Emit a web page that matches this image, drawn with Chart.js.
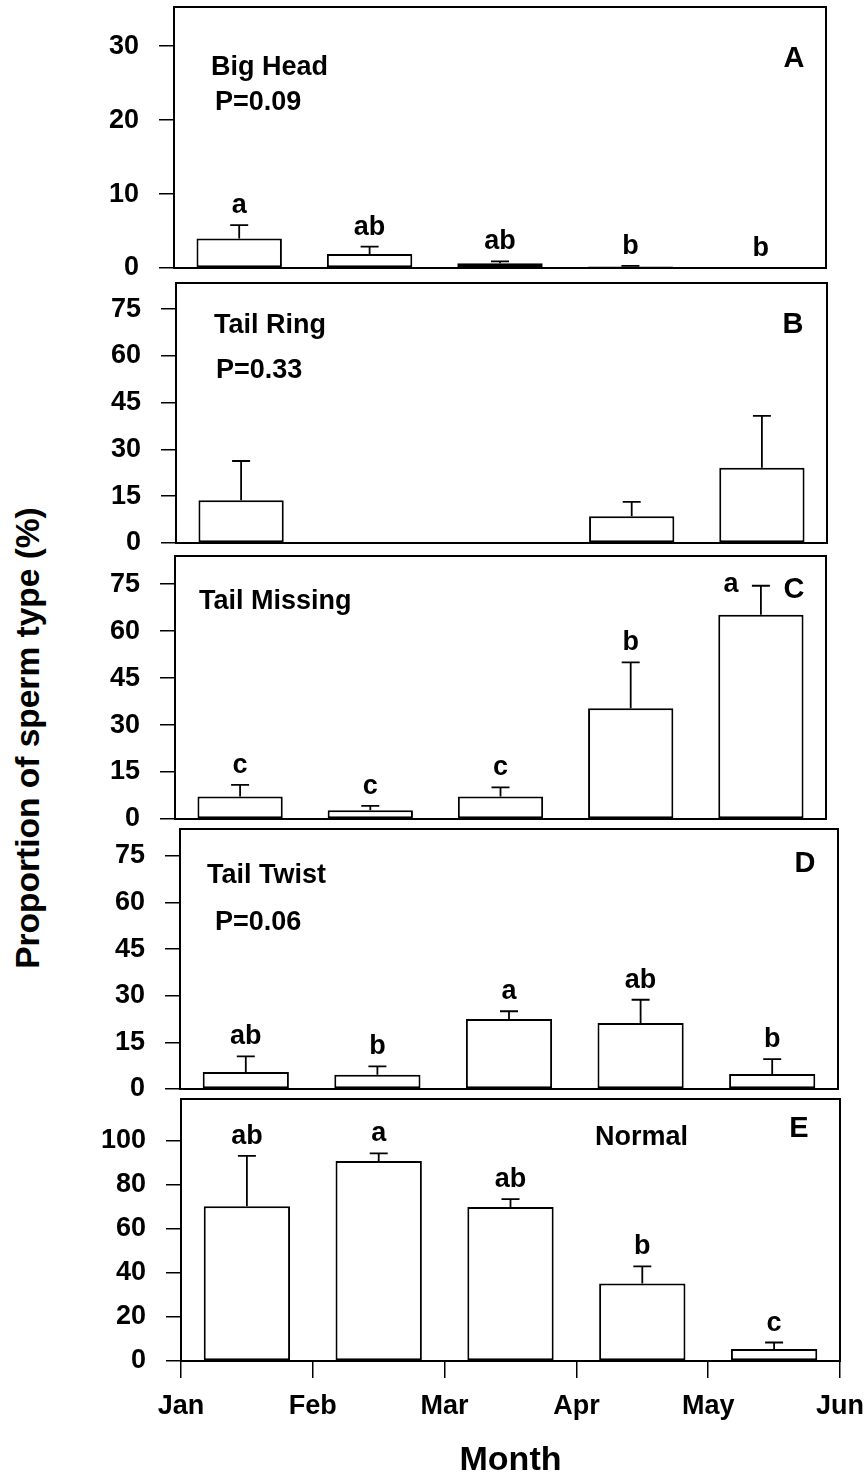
<!DOCTYPE html>
<html>
<head>
<meta charset="utf-8">
<script src="https://cdn.jsdelivr.net/npm/chart.js@4.4.1/dist/chart.umd.min.js"></script>
<style>
  body { margin: 0; background: #fff; }
  #wrap { position: relative; width: 866px; height: 1481px; overflow: hidden; background: #fff; }
  #wrap canvas { position: absolute; left: 0; }
  #ytitle {
    position: absolute; left: -249px; top: 716px; width: 560px; height: 44px;
    line-height: 44px; text-align: center; font: bold 33.5px 'Liberation Sans', Arial, sans-serif;
    color: #000; transform: rotate(-90deg); white-space: nowrap;
  }
</style>
</head>
<body>
<div id="wrap">
  <div id="ytitle">Proportion of sperm type (%)</div>
</div>
<script>
// month boundaries on the x axis, bars sit mid-month
const months = ['Jan', 'Feb', 'Mar', 'Apr', 'May', 'Jun'];
const monthTicks = [0, 1, 2, 3, 4, 5];
const barPos = [0.5, 1.5, 2.5, 3.5, 4.5];

// A - big head
const bigHead = [4.0, 1.9, 0.65, 0.2, 0];
const bigHeadSE = [1.8, 1.0, 0.25, 0.1, 0];
const bigHeadGroups = ['a', 'ab', 'ab', 'b', 'b'];
const bigHeadTicks = [0, 10, 20, 30];

// B - tail ring
const tailRing = [13.7, 0.3, 0, 8.6, 24.1];
const tailRingSE = [12.6, 0, 0, 4.6, 16.7];
const tailRingGroups = [];
const tailRingTicks = [0, 15, 30, 45, 60, 75];

// C - tail missing
const tailMissing = [7.2, 2.8, 7.2, 35.4, 65.2];
const tailMissingSE = [3.7, 1.4, 2.9, 14.6, 9.3];
const tailMissingGroups = ['c', 'c', 'c', 'b', 'a'];
const tailMissingTicks = [0, 15, 30, 45, 60, 75];

// D - tail twist
const tailTwist = [5.5, 4.6, 22.5, 21.2, 4.8];
const tailTwistSE = [5.0, 2.7, 2.5, 7.5, 4.8];
const tailTwistGroups = ['ab', 'b', 'a', 'ab', 'b'];
const tailTwistTicks = [0, 15, 30, 45, 60, 75];

// E - normal
const normal = [70.3, 90.8, 70.0, 35.2, 5.5];
const normalSE = [22.9, 3.5, 3.5, 7.8, 2.9];
const normalGroups = ['ab', 'a', 'ab', 'b', 'c'];
const normalTicks = [0, 20, 40, 60, 80, 100];

const FONT = "'Liberation Sans', Arial, sans-serif";
const PAGE_H = 1481;

const panels = [
  { tag: 'A', lines: ['Big Head', 'P=0.09'], values: bigHead, se: bigHeadSE, groups: bigHeadGroups, ticks: bigHeadTicks, max: 35.3,
    box: { L: 174, R: 826, T: 7, B: 268 },
    text: [[37, 68], [41, 103]], tagAt: [-32, 60] },
  { tag: 'B', lines: ['Tail Ring', 'P=0.33'], values: tailRing, se: tailRingSE, groups: tailRingGroups, ticks: tailRingTicks, max: 83.4,
    box: { L: 176, R: 827, T: 283, B: 543 },
    text: [[38, 50], [40, 95]], tagAt: [-34, 50] },
  { tag: 'C', lines: ['Tail Missing'], values: tailMissing, se: tailMissingSE, groups: tailMissingGroups, ticks: tailMissingTicks, max: 84,
    box: { L: 175, R: 826, T: 556, B: 819 },
    text: [[24, 53]], tagAt: [-32, 42], shift: { 4: [-30, 18] } },
  { tag: 'D', lines: ['Tail Twist', 'P=0.06'], values: tailTwist, se: tailTwistSE, groups: tailTwistGroups, ticks: tailTwistTicks, max: 83.6,
    box: { L: 180, R: 838, T: 829, B: 1089 },
    text: [[27, 54], [35, 101]], tagAt: [-33, 43] },
  { tag: 'E', lines: ['Normal'], values: normal, se: normalSE, groups: normalGroups, ticks: normalTicks, max: 119,
    box: { L: 181, R: 840, T: 1099, B: 1361 },
    text: [[414, 46]], tagAt: [-41, 38], last: true },
];

Chart.defaults.font.family = FONT;
Chart.defaults.font.size = 27;
Chart.defaults.font.weight = 'bold';
Chart.defaults.color = '#000';

// frame, error bars, group letters and panel captions
const panelDecor = {
  id: 'panelDecor',
  afterDatasetsDraw(chart, args, opts) {
    const p = opts.panel;
    const { ctx, chartArea: a, scales: { x, y } } = chart;
    ctx.save();
    ctx.strokeStyle = '#000';
    ctx.fillStyle = '#000';
    ctx.lineWidth = 2;
    ctx.strokeRect(a.left, a.top, a.right - a.left, a.bottom - a.top);

    ctx.lineWidth = 1.8;
    p.values.forEach((v, i) => {
      const cx = x.getPixelForValue(barPos[i]);
      const top = y.getPixelForValue(v + p.se[i]);
      if (p.se[i] > 0) {
        ctx.beginPath();
        ctx.moveTo(cx, y.getPixelForValue(v));
        ctx.lineTo(cx, top);
        ctx.moveTo(cx - 9, top);
        ctx.lineTo(cx + 9, top);
        ctx.stroke();
      }
      if (p.groups[i]) {
        const s = (p.shift && p.shift[i]) || [0, 0];
        ctx.font = 'bold 27px ' + FONT;
        ctx.textAlign = 'center';
        ctx.textBaseline = 'alphabetic';
        ctx.fillText(p.groups[i], cx + s[0], top - 12 + s[1]);
      }
    });

    ctx.font = 'bold 27px ' + FONT;
    ctx.textAlign = 'left';
    ctx.textBaseline = 'alphabetic';
    p.lines.forEach((t, k) => {
      ctx.fillText(t, a.left + p.text[k][0], a.top + p.text[k][1]);
    });
    ctx.font = 'bold 29px ' + FONT;
    ctx.textAlign = 'center';
    ctx.fillText(p.tag, a.right + p.tagAt[0], a.top + p.tagAt[1]);
    ctx.restore();
  },
};

const wrap = document.getElementById('wrap');

panels.forEach((p) => {
  const { L, R, T, B } = p.box;
  const top = T - 20;
  const xHeight = p.last ? PAGE_H - B : 0;
  const height = p.last ? PAGE_H - top : (B - T) + 40;
  const canvas = document.createElement('canvas');
  canvas.width = 866;
  canvas.height = height;
  canvas.style.top = top + 'px';
  wrap.appendChild(canvas);

  new Chart(canvas.getContext('2d'), {
    type: 'bar',
    data: {
      datasets: [{
        data: p.values.map((v, i) => ({ x: barPos[i], y: v })),
        backgroundColor: '#fff',
        borderColor: '#000',
        borderWidth: 2,
        borderSkipped: false,
        categoryPercentage: 1,
        barPercentage: 0.655,
      }],
    },
    options: {
      responsive: false,
      animation: false,
      events: [],
      layout: {
        autoPadding: false,
        padding: { left: 0, right: 866 - R, top: 20, bottom: p.last ? 0 : 20 },
      },
      plugins: {
        legend: { display: false },
        tooltip: { enabled: false },
        panelDecor: { panel: p },
      },
      scales: {
        x: {
          type: 'linear',
          min: 0,
          max: 5,
          offset: false,
          display: !!p.last,
          afterBuildTicks: (s) => { s.ticks = monthTicks.map((v) => ({ value: v })); },
          afterFit: (s) => {
            s.height = xHeight;
            s.paddingLeft = 0;
            s.paddingRight = 0;
          },
          grid: { offset: false, drawOnChartArea: false, drawTicks: true, tickLength: 17, color: '#000', lineWidth: 1.5 },
          border: { display: true, color: '#000', width: 2 },
          ticks: { padding: 12, maxRotation: 0, autoSkip: false, callback: (v) => months[v] },
          title: { display: true, text: 'Month', font: { size: 34 }, padding: { top: 0, bottom: 0 } },
        },
        y: {
          min: 0,
          max: p.max,
          afterBuildTicks: (s) => { s.ticks = p.ticks.map((v) => ({ value: v })); },
          afterFit: (s) => {
            s.width = L;
            s.paddingTop = 0;
            s.paddingBottom = 0;
          },
          grid: { drawOnChartArea: false, drawTicks: true, tickLength: 15, color: '#000', lineWidth: 1.5 },
          border: { display: true, color: '#000', width: 2 },
          ticks: { padding: 20 },
        },
      },
    },
    plugins: [panelDecor],
  });
});
</script>
</body>
</html>
